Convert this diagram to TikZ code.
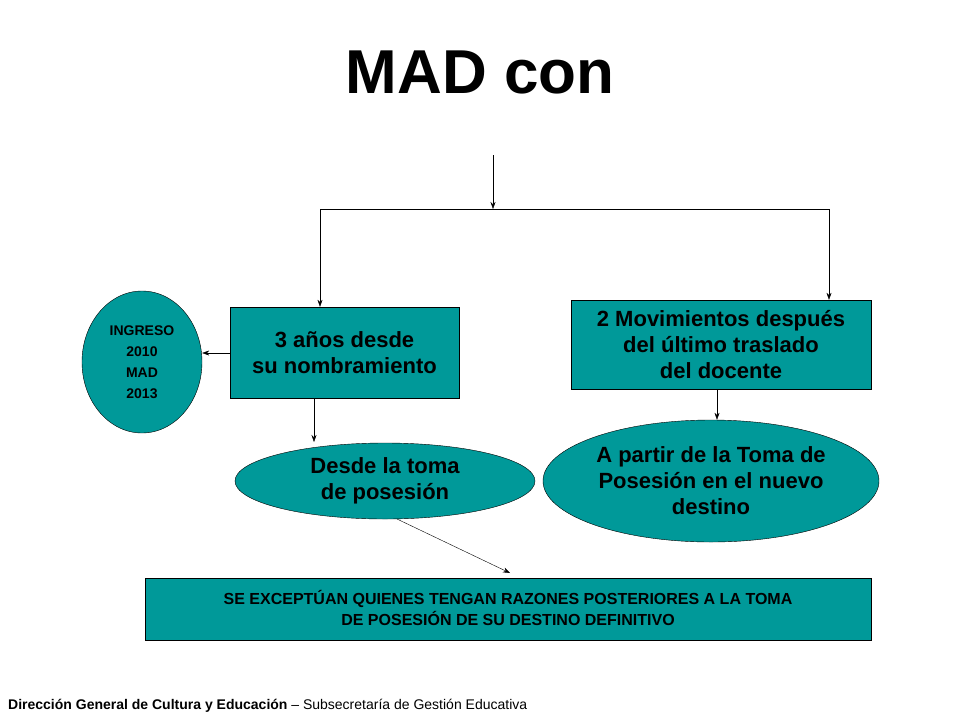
\documentclass[tikz,border=0pt]{standalone}
\usepackage{fontspec}
\setmainfont{Liberation Sans}
\usetikzlibrary{shapes.geometric,arrows.meta}
\definecolor{teal1}{RGB}{0,153,153}
\begin{document}
\begin{tikzpicture}[x=1pt,y=-1pt,
  box/.style={draw=black,fill=teal1,align=center,font=\bfseries\fontsize{22}{26}\selectfont,inner sep=0pt},
  ell/.style={draw=black,fill=teal1,ellipse,align=center,inner sep=0pt,font=\bfseries\fontsize{22}{26}\selectfont},
  arr/.style={-{Stealth[length=7pt,width=5pt]},black}]
\useasboundingbox (0,0) rectangle (960,720);
\node[font=\bfseries\fontsize{62}{70}\selectfont] (title) at (480,72) {MAD con};
\coordinate (top) at (493,155);
\coordinate (mid) at (493,209);
\coordinate (L) at (320,209);
\coordinate (R) at (829,209);
\draw[arr] (top) -- (mid);
\draw (L) -- (R);
\node[box,minimum width=229pt,minimum height=91pt] (b1) at (344.5,352.5) {3 años desde\\su nombramiento};
\node[box,minimum width=300pt,minimum height=89pt] (b2) at (721,344.5) {2 Movimientos después\\del último traslado\\del docente};
\draw[arr] (L) -- (L|-b1.north);
\draw[arr] (R) -- (R|-b2.north);
\node[ell,minimum width=120pt,minimum height=142pt,font=\bfseries\fontsize{14}{21}\selectfont] (e0) at (142,362) {INGRESO\\2010\\MAD\\2013};
\draw[arr] (b1.west |- 0,353) -- (e0.east |- 0,353);
\node[ell,minimum width=300pt,minimum height=76pt] (e1) at (385,481) {Desde la toma\\de posesión};
\draw[arr] (314,398) -- (314,442);
\node[ell,minimum width=336pt,minimum height=122pt] (e2) at (711,481) {A partir de la Toma de\\Posesión en el nuevo\\destino};
\draw[arr] (717,389) -- (e2.north -| 717,0);
\node[box,minimum width=726pt,minimum height=62pt] (b3) at (508,609) {};
\node[font=\bfseries\fontsize{16}{21}\selectfont,align=center] (t3) at (508,608) {SE EXCEPTÚAN QUIENES TENGAN RAZONES POSTERIORES A LA TOMA\\DE POSESIÓN DE SU DESTINO DEFINITIVO};
\coordinate (s) at (397,519);
\draw[arr] (s) -- (510,573);
\node[anchor=base west,font=\fontsize{14}{16}\selectfont,inner sep=0pt] (foot) at (8,709) {\textbf{Dirección General de Cultura y Educación} – Subsecretaría de Gestión Educativa};
\end{tikzpicture}
\end{document}
